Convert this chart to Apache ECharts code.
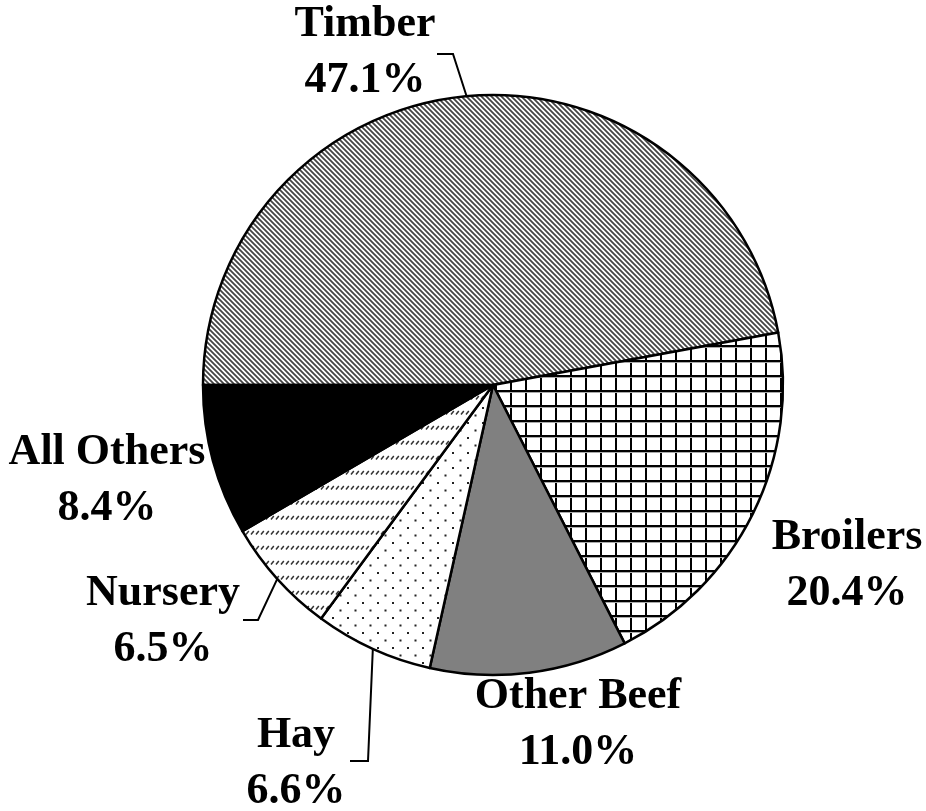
<!DOCTYPE html>
<html>
<head>
<meta charset="utf-8">
<script src="https://cdn.jsdelivr.net/npm/echarts@6/dist/echarts.min.js"></script>
<style>
  html, body { margin: 0; padding: 0; background: #fff; }
  #myChartPie { width: 926px; height: 811px; }
</style>
</head>
<body>
<div id="myChartPie"></div>
<script>
// 数据
var categories = ['Timber', 'Broilers', 'Other Beef', 'Hay', 'Nursery', 'All Others'];
var shares = [47.1, 20.4, 11.0, 6.6, 6.5, 8.4];
var hasLeader = [true, false, false, true, true, false];

// 填充图案
function makeTile(w, h, draw) {
    var c = document.createElement('canvas');
    c.width = w;
    c.height = h;
    var ctx = c.getContext('2d');
    ctx.fillStyle = '#fff';
    ctx.fillRect(0, 0, w, h);
    draw(ctx);
    return { image: c, repeat: 'repeat' };
}

var hatchTimber = makeTile(5, 5, function (ctx) {
    ctx.strokeStyle = '#444';
    ctx.lineWidth = 1.8;
    ctx.beginPath();
    ctx.moveTo(-1, -1); ctx.lineTo(6, 6);
    ctx.moveTo(-1, 4); ctx.lineTo(1, 6);
    ctx.moveTo(4, -1); ctx.lineTo(6, 1);
    ctx.stroke();
});
var gridBroilers = makeTile(15, 15, function (ctx) {
    ctx.fillStyle = '#000';
    ctx.fillRect(0, 0, 2, 15);
    ctx.fillRect(0, 0, 15, 2);
    ctx.fillStyle = '#aaa';
    ctx.fillRect(0, 2, 15, 1);
});
var dotsHay = makeTile(15, 15, function (ctx) {
    ctx.fillStyle = '#222';
    ctx.fillRect(2, 2, 2, 2);
    ctx.fillRect(9.5, 9.5, 2, 2);
});
var dashNursery = makeTile(5, 15, function (ctx) {
    ctx.strokeStyle = '#333';
    ctx.lineWidth = 1.5;
    ctx.beginPath();
    ctx.moveTo(1, 9.5);
    ctx.lineTo(3.8, 6);
    ctx.stroke();
});
var fills = [hatchTimber, gridBroilers, '#808080', dotsHay, dashNursery, '#000'];

// 标签位置
var labelSpots = [
    { x: 365, y: 53, bend: [453, 54], end: [437, 54] },
    { x: 847, y: 566 },
    { x: 578, y: 725 },
    { x: 296, y: 764, bend: [368, 761], end: [350, 761] },
    { x: 163, y: 622, bend: [258, 620], end: [243, 620] },
    { x: 107, y: 481 }
];

var myChartPie = echarts.init(document.getElementById('myChartPie'));
var Pie_option = {
    animation: false,
    series: [{
        type: 'pie',
        center: [493, 385],
        radius: 290,
        startAngle: 180,
        clockwise: true,
        avoidLabelOverlap: false,
        data: categories.map(function (name, i) {
            return {
                name: name,
                value: shares[i],
                itemStyle: { color: fills[i] },
                labelLine: { show: hasLeader[i] }
            };
        }),
        itemStyle: {
            borderColor: '#000',
            borderWidth: 2.5
        },
        label: {
            show: true,
            position: 'outside',
            color: '#000',
            fontFamily: 'Liberation Serif',
            fontWeight: 'bold',
            fontSize: 44,
            lineHeight: 56,
            align: 'center',
            formatter: function (p) {
                return p.name + '\n' + p.value.toFixed(1) + '%';
            }
        },
        labelLine: {
            lineStyle: { color: '#000', width: 2 }
        },
        labelLayout: function (params) {
            var s = labelSpots[params.dataIndex];
            var res = { x: s.x, y: s.y, align: 'center', verticalAlign: 'middle' };
            if (s.bend && params.labelLinePoints) {
                res.labelLinePoints = [params.labelLinePoints[0], s.bend, s.end];
            }
            return res;
        }
    }]
};
myChartPie.setOption(Pie_option);
</script>
</body>
</html>
